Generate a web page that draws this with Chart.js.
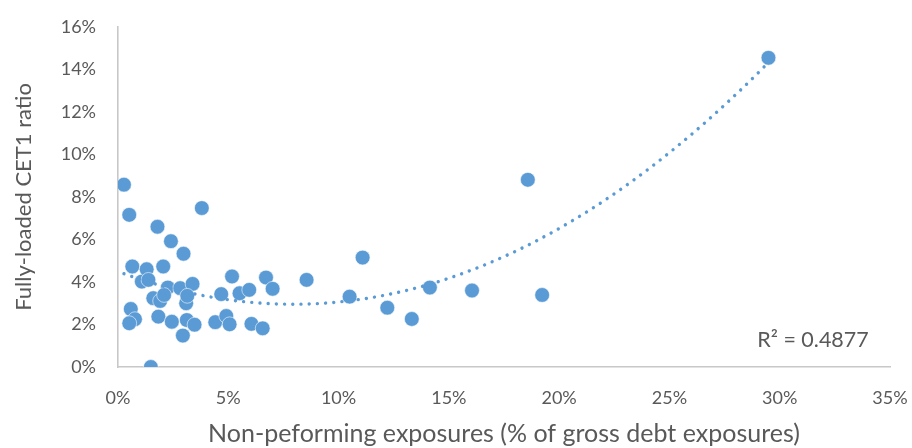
<!DOCTYPE html>
<html>
<head>
<meta charset="utf-8">
<script src="https://cdn.jsdelivr.net/npm/chart.js@4/dist/chart.umd.min.js"></script>
<style>
  html, body { margin: 0; padding: 0; background: #ffffff; }
  #wrap { width: 912px; height: 448px; }
</style>
</head>
<body>
<div id="wrap"><canvas id="c" width="912" height="448"></canvas></div>
<script>
// Non-performing exposures (% of gross debt exposures)
const nplRatio = [
  0.27, 0.51, 0.65, 0.58, 0.77, 0.51, 1.08, 1.30, 1.38, 1.49,
  1.60, 1.79, 1.83, 2.05, 2.26, 2.40, 2.44, 2.97, 2.94, 2.82,
  3.09, 3.12, 3.38, 3.47, 3.80, 4.41, 4.68, 4.91, 5.06, 5.17,
  5.51, 5.95, 6.05, 6.56, 6.71, 7.01, 8.55, 10.50, 11.09, 12.21,
  13.32, 14.14, 16.05, 18.58, 19.23, 29.49, 1.91, 2.09, 3.14
];
// Fully-loaded CET1 ratio (%)
const cet1Ratio = [
  8.58, 7.16, 4.73, 2.73, 2.25, 2.06, 4.02, 4.60, 4.10, 0.00,
  3.24, 6.60, 2.37, 4.73, 3.74, 5.92, 2.13, 5.33, 1.48, 3.71,
  3.00, 2.21, 3.91, 1.99, 7.48, 2.11, 3.43, 2.40, 2.01, 4.26,
  3.47, 3.63, 2.03, 1.82, 4.21, 3.68, 4.10, 3.31, 5.15, 2.79,
  2.26, 3.74, 3.60, 8.81, 3.39, 14.55, 3.11, 3.39, 3.35
];
const xTicks = [0, 5, 10, 15, 20, 25, 30, 35];
const yTicks = [0, 2, 4, 6, 8, 10, 12, 14, 16];
const xTitle = 'Non-peforming exposures (% of gross debt exposures)';
const yTitle = 'Fully-loaded CET1 ratio';
const rSquaredLabel = 'R\u00B2 = 0.4877';

// Polynomial (order 2) least-squares trendline, as in the original spreadsheet chart
function polyFit2(xs, ys) {
  let s = [0,0,0,0,0], t = [0,0,0];
  for (let i = 0; i < xs.length; i++) {
    const x = xs[i], y = ys[i];
    let p = 1;
    for (let k = 0; k < 5; k++) { s[k] += p; if (k < 3) t[k] += p * y; p *= x; }
  }
  const A = [[s[0], s[1], s[2], t[0]], [s[1], s[2], s[3], t[1]], [s[2], s[3], s[4], t[2]]];
  for (let i = 0; i < 3; i++) {
    for (let j = i + 1; j < 3; j++) {
      const f = A[j][i] / A[i][i];
      for (let k = i; k < 4; k++) A[j][k] -= f * A[i][k];
    }
  }
  const c = [0,0,0];
  for (let i = 2; i >= 0; i--) {
    let v = A[i][3];
    for (let k = i + 1; k < 3; k++) v -= A[i][k] * c[k];
    c[i] = v / A[i][i];
  }
  return c;
}
const coef = polyFit2(nplRatio, cet1Ratio);
const xMin = Math.min(...nplRatio), xMax = Math.max(...nplRatio);
const trendPts = [];
for (let i = 0; i <= 120; i++) {
  const x = xMin + (xMax - xMin) * i / 120;
  trendPts.push({ x: x, y: coef[0] + coef[1] * x + coef[2] * x * x });
}

const points = nplRatio.map((x, i) => ({ x: x, y: cet1Ratio[i] }));
const FONT = 'Lato, "Open Sans", sans-serif';
const GREY = '#595959';

const r2Plugin = {
  id: 'r2label',
  afterDraw(chart) {
    const ctx = chart.ctx;
    ctx.save();
    ctx.font = '21.5px ' + FONT;
    ctx.fillStyle = GREY;
    ctx.textAlign = 'center';
    ctx.textBaseline = 'alphabetic';
    ctx.fillText(rSquaredLabel, 813, 347);
    ctx.restore();
  }
};

new Chart(document.getElementById('c'), {
  type: 'scatter',
  data: {
    datasets: [
      {
        label: 'Trend',
        type: 'line',
        data: trendPts,
        showLine: true,
        borderColor: '#5b9bd5',
        borderWidth: 3.4,
        borderCapStyle: 'round',
        borderDash: [0.01, 8.2],
        pointRadius: 0,
        fill: false,
        tension: 0,
        order: 0
      },
      {
        label: 'Banks',
        data: points,
        backgroundColor: '#5b9bd5',
        borderColor: 'rgba(255,255,255,0.7)',
        borderWidth: 0.8,
        pointRadius: 7.4,
        order: 1
      }
    ]
  },
  options: {
    responsive: false,
    animation: false,
    layout: { padding: { left: 0, right: 0, top: 0, bottom: 0 } },
    plugins: { legend: { display: false }, tooltip: { enabled: false } },
    scales: {
      x: {
        type: 'linear',
        min: 0, max: 35,
        afterBuildTicks(scale) { scale.ticks = xTicks.map(v => ({ value: v })); },
        afterFit(scale) { scale.height = 448 - 367; scale.paddingRight = 22; scale.paddingLeft = 0; },
        grid: { display: false, drawTicks: false },
        border: { display: true, color: '#c8c8c8', width: 1.6 },
        ticks: {
          padding: 20,
          color: GREY,
          font: { family: FONT, size: 18 },
          callback: v => v + '%'
        },
        title: {
          display: true,
          text: xTitle,
          color: GREY,
          font: { family: FONT, size: 25, lineHeight: 1 },
          padding: { top: 0, bottom: 2 }
        }
      },
      y: {
        type: 'linear',
        min: 0, max: 16,
        afterBuildTicks(scale) { scale.ticks = yTicks.map(v => ({ value: v })); },
        afterFit(scale) { scale.width = 118; scale.paddingTop = 27; scale.paddingBottom = 0; },
        grid: { display: false, drawTicks: false },
        border: { display: true, color: '#c8c8c8', width: 1.6 },
        ticks: {
          padding: 22,
          color: GREY,
          font: { family: FONT, size: 18 },
          callback: v => v + '%'
        },
        title: {
          display: true,
          text: yTitle,
          color: GREY,
          font: { family: FONT, size: 22, lineHeight: 1 },
          padding: { top: 13, bottom: 0 }
        }
      }
    }
  },
  plugins: [r2Plugin]
});
</script>
</body>
</html>
